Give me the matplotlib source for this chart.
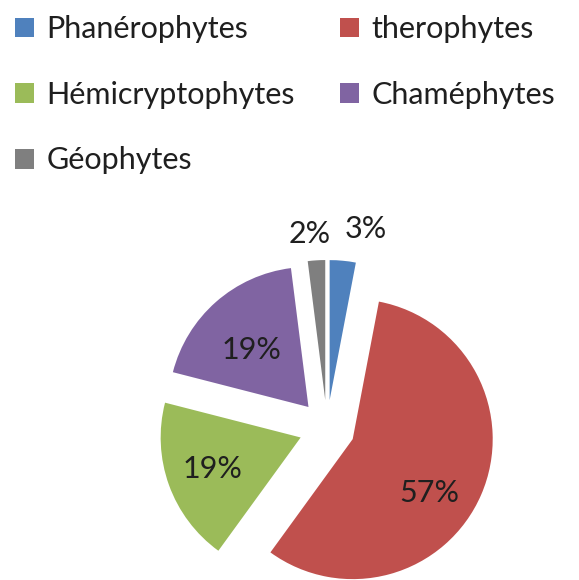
import numpy as np
import matplotlib
matplotlib.use("Agg")
import matplotlib.pyplot as plt
from matplotlib.patches import Patch

categories = ["Phanérophytes", "therophytes", "Hémicryptophytes", "Chaméphytes", "Géophytes"]
values = [3, 57, 19, 19, 2]
labels_pct = ["3%", "57%", "19%", "19%", "2%"]
colors = ["#4F81BD", "#C0504D", "#9BBB59", "#8064A2", "#7F7F7F"]
label_radius = [1.25, 0.67, 0.67, 0.58, 1.19]
label_angle_shift = [-6.6, -11.6, 0.0, 3.6, 1.8]

plt.rcParams['font.family'] = ['Lato', 'DejaVu Sans']

fig = plt.figure(figsize=(5.79, 5.80), dpi=100)
R_px = 140.0
half_units = 1.6
side_px = 2 * half_units * R_px
cx, cy = 327.0, 428.0
W, H = 579.0, 580.0
ax = fig.add_axes([(cx - side_px / 2) / W, (H - cy - side_px / 2) / H, side_px / W, side_px / H])

wedges, _ = ax.pie(values, colors=colors, startangle=90, counterclock=False,
                   explode=[0.2] * len(values), radius=1.0,
                   wedgeprops=dict(linewidth=0), frame=True)
ax.set_xlim(-half_units, half_units)
ax.set_ylim(-half_units, half_units)
ax.set_aspect('equal')
ax.axis('off')

for w, lab, r, da in zip(wedges, labels_pct, label_radius, label_angle_shift):
    mid = np.deg2rad((w.theta1 + w.theta2) / 2 + da)
    x0, y0 = w.center
    ax.text(x0 + r * np.cos(mid), y0 + r * np.sin(mid), lab, ha='center', va='center',
            fontsize=22, color='#1f1f1f')

order = [0, 2, 4, 1, 3]
handles = [Patch(facecolor=colors[i], edgecolor='none') for i in order]
fig.legend(handles, [categories[i] for i in order], ncol=2, loc='upper left',
           bbox_to_anchor=(0.0, 1.0), frameon=False, fontsize=22,
           handlelength=0.62, handleheight=0.62, handletextpad=0.4,
           labelspacing=1.23, columnspacing=1.47, borderaxespad=0.1,
           labelcolor='#1f1f1f')

fig.savefig("out.png", dpi=100)
